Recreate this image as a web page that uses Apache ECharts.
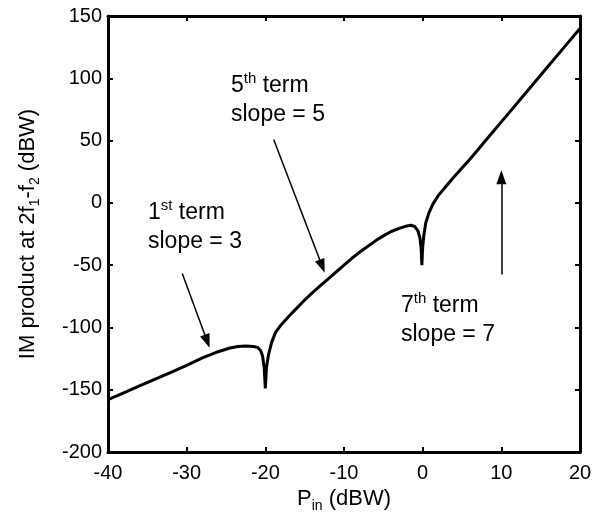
<!DOCTYPE html>
<html><head><meta charset="utf-8">
<script src="https://cdn.jsdelivr.net/npm/echarts@6/dist/echarts.min.js"></script>
<style>html,body{margin:0;padding:0;background:#fff}#c{width:598px;height:518px}</style>
</head><body><div id="c"></div>
<script>
// Input power (dBW)
const pinDbw = [-40,-38,-36,-34,-32,-30,-28,-26,-24.5,-23.5,-22.5,-21.5,-21,-20.6,-20.35,-20.15,-20,-19.85,-19.6,-19.2,-18.7,-18,-17,-16,-15,-14,-13,-12,-11,-10,-9,-8,-7,-6,-5,-4,-3,-2,-1.5,-1,-0.6,-0.35,-0.2,-0.1,0,0.15,0.4,0.8,1.3,2,3,4,5,6,7,8,9,10,12,14,16,18,20];
// IM product at 2f1-f2 (dBW)
const imDbw = [-158,-152.5,-147,-141.5,-136,-130.5,-124.5,-119.5,-116.5,-115.3,-115,-115.3,-116,-118.5,-123,-132,-149,-132,-122,-112,-104,-98,-91,-84.5,-78,-72,-66.5,-61,-55.5,-50,-44.5,-39.5,-35,-30.5,-26.5,-23,-20.5,-18.5,-18,-19,-22.5,-28,-36,-50,-36,-26,-16,-8,-1,6,13.5,21,28,35,42.5,50,57.5,65,80,95,110,125,140];
const xMin = -40, xMax = 20, xStep = 10;
const yMin = -200, yMax = 150, yStep = 50;

const FONT = 'Liberation Sans, Arial, Helvetica, sans-serif';
const chart = echarts.init(document.getElementById('c'), null, {renderer: 'canvas'});
const lineData = pinDbw.map((x, i) => [x, imDbw[i]]);

const axisCommon = {
  type: 'value',
  axisLine: {show: true, onZero: false, lineStyle: {color: '#000', width: 3}},
  axisTick: {show: true, inside: true, length: 5, lineStyle: {color: '#000', width: 2}},
  splitLine: {show: false}
};
const richN = {fontSize: 22, fontFamily: FONT, color: '#000', lineHeight: 28};
const richSub = {fontSize: 14, fontFamily: FONT, color: '#000', lineHeight: 14, verticalAlign: 'bottom'};

function annot(left, top, num, sup, slope) {
  return {
    type: 'text', left: left, top: top, silent: true,
    style: {
      text: '{n|' + num + '}{sup|' + sup + '}{n| term}\n{n|slope = ' + slope + '}',
      rich: {
        n: {fontSize: 23, fontFamily: FONT, fill: '#000', lineHeight: 29},
        sup: {fontSize: 15, fontFamily: FONT, fill: '#000', lineHeight: 19, verticalAlign: 'top'}
      }
    }
  };
}

chart.setOption({
  animation: false,
  backgroundColor: '#fff',
  grid: {left: 108, right: 18, top: 16, bottom: 65, containLabel: false},
  xAxis: [
    Object.assign({}, axisCommon, {
      min: xMin, max: xMax, interval: xStep, position: 'bottom',
      axisLabel: {color: '#000', fontSize: 20, fontFamily: FONT, margin: 11},
      name: '{n|P}{sub|in}{n| (dBW)}', nameLocation: 'middle', nameGap: 33,
      nameTextStyle: {rich: {n: richN, sub: richSub}}
    }),
    Object.assign({}, axisCommon, {
      min: xMin, max: xMax, interval: xStep, position: 'top',
      axisLabel: {show: false}
    })
  ],
  yAxis: [
    Object.assign({}, axisCommon, {
      min: yMin, max: yMax, interval: yStep, position: 'left',
      axisLabel: {color: '#000', fontSize: 20, fontFamily: FONT, margin: 6},
      name: '{n|IM product at 2f}{sub|1}{n|-f}{sub|2}{n| (dBW)}', nameLocation: 'middle', nameGap: 66,
      nameRotate: 90,
      nameTextStyle: {rich: {n: richN, sub: richSub}}
    }),
    Object.assign({}, axisCommon, {
      min: yMin, max: yMax, interval: yStep, position: 'right',
      axisLabel: {show: false}
    })
  ],
  series: [{
    type: 'line', xAxisIndex: 0, yAxisIndex: 0,
    data: lineData, showSymbol: false, smooth: false,
    lineStyle: {color: '#000', width: 3},
    markLine: {
      silent: true, symbol: ['none', 'triangle'], symbolSize: [10, 14],
      label: {show: false}, emphasis: {disabled: true},
      lineStyle: {color: '#000', width: 1.5, type: 'solid'},
      data: [
        [{coord: [-30.56, -56.7]}, {coord: [-27.39, -111.1]}],
        [{coord: [-18.94, 50.9]}, {coord: [-12.77, -50.9]}],
        [{coord: [10, -57.5]}, {coord: [10, 20.6]}]
      ]
    }
  }],
  graphic: [
    annot(148, 198, '1', 'st', 3),
    annot(231, 71, '5', 'th', 5),
    annot(401, 291, '7', 'th', 7)
  ]
});
</script></body></html>
